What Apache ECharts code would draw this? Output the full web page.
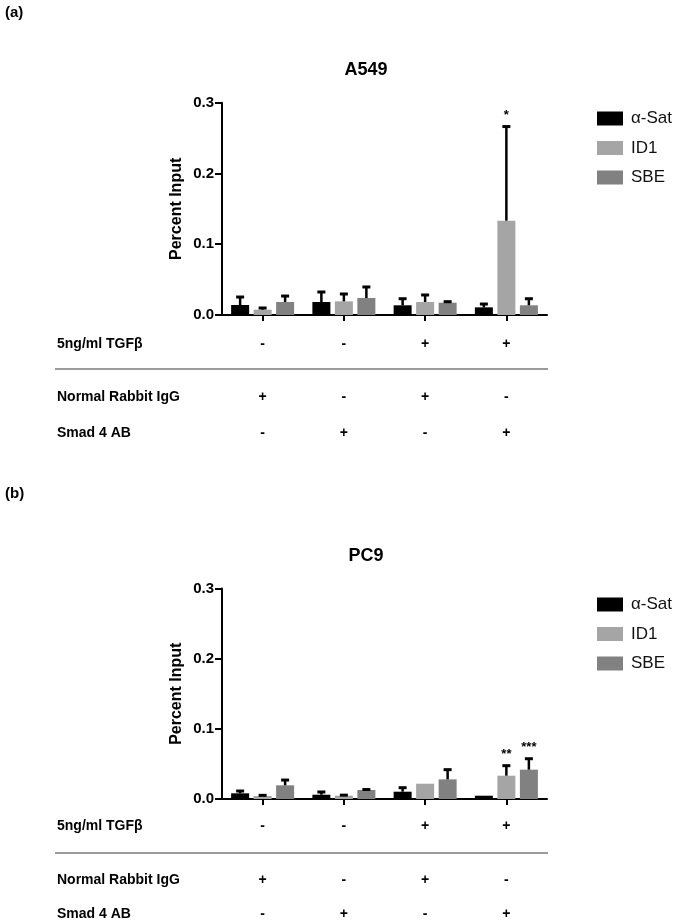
<!DOCTYPE html>
<html>
<head>
<meta charset="utf-8">
<script src="https://cdn.jsdelivr.net/npm/echarts@6/dist/echarts.min.js"></script>
<style>html,body{margin:0;padding:0;background:#fff}#c{width:675px;height:924px}</style>
</head>
<body>
<div id="c"></div>
<script>
// ---- data ----
const CATS = ['1', '2', '3', '4'];
const SERIES_NAMES = ['α-Sat', 'ID1', 'SBE'];
const Y_TICKS = [0, 0.1, 0.2, 0.3];

const A549_ASAT = [0.0141, 0.0184, 0.0137, 0.0108];
const A549_ASAT_ERR = [0.0254, 0.0325, 0.0230, 0.0155];
const A549_ID1 = [0.0075, 0.0193, 0.0184, 0.1333];
const A549_ID1_ERR = [0.0099, 0.0297, 0.0283, 0.2663];
const A549_SBE = [0.0184, 0.0240, 0.0174, 0.0137];
const A549_SBE_ERR = [0.0268, 0.0396, 0.0188, 0.0230];
const A549_SIG_ID1 = ['', '', '', '*'];
const A549_SIG_SBE = ['', '', '', ''];

const PC9_ASAT = [0.0081, 0.0061, 0.0104, 0.0047];
const PC9_ASAT_ERR = [0.0114, 0.0100, 0.0161, null];
const PC9_ID1 = [0.0043, 0.0047, 0.0218, 0.0332];
const PC9_ID1_ERR = [0.0052, 0.0055, null, 0.0475];
const PC9_SBE = [0.0195, 0.0128, 0.0280, 0.0418];
const PC9_SBE_ERR = [0.0270, 0.0135, 0.0418, 0.0574];
const PC9_SIG_ID1 = ['', '', '', '**'];
const PC9_SIG_SBE = ['', '', '', '***'];

const ROW_LABELS = ['5ng/ml TGFβ', 'Normal Rabbit IgG', 'Smad 4 AB'];
const TGF_SIGNS = ['-', '-', '+', '+'];
const IGG_SIGNS = ['+', '-', '+', '-'];
const SMAD_SIGNS = ['-', '+', '-', '+'];

// ---- styles ----
const FONT = '"Liberation Sans", Arial, sans-serif';
const COLORS = ['#000000', '#a5a5a5', '#818181'];
const BAR_W = 18, BAR_GAP = 4.5;

const chart = echarts.init(document.getElementById('c'), null, {renderer: 'canvas'});

const panels = [
  {grid: {left: 222, top: 102.7, width: 325, height: 212.3}, axisY: 315, rows: [344, 397, 433], sep: 369,
   title: 'A549', titleY: 70, tag: '(a)', tagY: 13, legendTop: 105,
   vals: [A549_ASAT, A549_ID1, A549_SBE], errs: [A549_ASAT_ERR, A549_ID1_ERR, A549_SBE_ERR],
   sigs: [null, A549_SIG_ID1, A549_SIG_SBE]},
  {grid: {left: 222, top: 588.5, width: 325, height: 210.5}, axisY: 799, rows: [826, 880, 914], sep: 853,
   title: 'PC9', titleY: 556, tag: '(b)', tagY: 494, legendTop: 591,
   vals: [PC9_ASAT, PC9_ID1, PC9_SBE], errs: [PC9_ASAT_ERR, PC9_ID1_ERR, PC9_SBE_ERR],
   sigs: [null, PC9_SIG_ID1, PC9_SIG_SBE]}
];

const grids = [], xAxes = [], yAxes = [], series = [], legends = [], graphics = [];

panels.forEach((p, gi) => {
  grids.push(p.grid);
  const yIdx = yAxes.length;
  yAxes.push({
    gridIndex: gi, type: 'value', min: 0, max: 0.3, interval: 0.1,
    name: 'Percent Input', nameLocation: 'middle', nameGap: 37, nameRotate: 90,
    nameTextStyle: {fontFamily: FONT, fontWeight: 'bold', fontSize: 16, color: '#000'},
    axisLine: {show: true, lineStyle: {color: '#000', width: 2}},
    axisTick: {show: true, length: 7, lineStyle: {color: '#000', width: 2}},
    axisLabel: {fontFamily: FONT, fontWeight: 'bold', fontSize: 15, color: '#000', margin: 8,
                formatter: v => v.toFixed(1)},
    splitLine: {show: false}
  });
  const xIdx = xAxes.length;
  xAxes.push({
    gridIndex: gi, type: 'category', data: CATS,
    axisLine: {show: true, onZero: false, lineStyle: {color: '#000', width: 2}},
    axisTick: {show: true, alignWithLabel: true, length: 6, lineStyle: {color: '#000', width: 2}},
    axisLabel: {show: false}
  });
  [TGF_SIGNS, IGG_SIGNS, SMAD_SIGNS].forEach((signs, ri) => {
    xAxes.push({
      gridIndex: gi, type: 'category', data: CATS, position: 'bottom',
      offset: p.rows[ri] - p.axisY,
      axisLine: {show: false}, axisTick: {show: false},
      axisLabel: {show: true, margin: 0, verticalAlign: 'middle', fontFamily: FONT, fontWeight: 'bold',
                  fontSize: 14, color: '#000', interval: 0, formatter: (v, i) => signs[i]}
    });
  });

  SERIES_NAMES.forEach((nm, si) => {
    series.push({
      type: 'bar', name: nm, xAxisIndex: xIdx, yAxisIndex: yIdx,
      data: p.vals[si], barWidth: BAR_W, barGap: (BAR_GAP / BAR_W * 100) + '%',
      itemStyle: {color: COLORS[si]}, z: 2
    });
  });
  SERIES_NAMES.forEach((nm, si) => {
    const errs = p.errs[si];
    const sig = p.sigs[si];
    series.push({
      type: 'custom', name: 'err-' + gi + '-' + si, xAxisIndex: xIdx, yAxisIndex: yIdx,
      data: p.vals[si].map((v, i) => [i, v, errs[i] == null ? v : errs[i]]),
      encode: {x: 0, y: [1, 2]}, z: 5, silent: true,
      renderItem: (params, api) => {
        const i = api.value(0), v = api.value(1), e = api.value(2);
        const idx = params.dataIndex;
        const p0 = api.coord([i, v]);
        const p1 = api.coord([i, e]);
        const x = p0[0] + (si - 1) * (BAR_W + BAR_GAP);
        const children = [];
        const hasErr = errs[idx] != null;
        if (hasErr) {
          children.push({type: 'line', shape: {x1: x, y1: p0[1], x2: x, y2: p1[1]},
                         style: {stroke: '#000', lineWidth: 2.5}});
          children.push({type: 'rect', shape: {x: x - 4, y: p1[1] - 1.5, width: 8, height: 3},
                         style: {fill: '#000'}});
        }
        if (sig && sig[idx]) {
          children.push({type: 'text', x: x, y: p1[1] - 5,
                         style: {text: sig[idx], align: 'center', verticalAlign: 'bottom',
                                 font: 'bold 13px ' + FONT, fill: '#000'}});
        }
        return {type: 'group', children};
      }
    });
  });

  legends.push({
    data: SERIES_NAMES, orient: 'vertical', left: 592, top: p.legendTop,
    icon: 'rect', itemWidth: 26, itemHeight: 14, itemGap: 12.5,
    textStyle: {fontFamily: FONT, fontSize: 17, color: '#111', padding: [0, 0, 0, 3], lineHeight: 16},
    selectedMode: false
  });

  graphics.push({type: 'text', x: 5, y: p.tagY, style: {text: p.tag, font: 'bold 15px ' + FONT, fill: '#000', verticalAlign: 'middle'}});
  graphics.push({type: 'text', x: 366, y: p.titleY, style: {text: p.title, font: 'bold 18px ' + FONT, fill: '#000', align: 'center', verticalAlign: 'middle'}});
  ROW_LABELS.forEach((t, ri) => {
    graphics.push({type: 'text', x: 57, y: p.rows[ri], style: {text: t, font: 'bold 14px ' + FONT, fill: '#000', verticalAlign: 'middle'}});
  });
  graphics.push({type: 'line', shape: {x1: 55, y1: p.sep, x2: 548, y2: p.sep}, style: {stroke: '#7a7a7a', lineWidth: 1.5}});
});

chart.setOption({
  backgroundColor: '#fff',
  animation: false,
  grid: grids, xAxis: xAxes, yAxis: yAxes, series, legend: legends,
  graphic: graphics
});
</script>
</body>
</html>
